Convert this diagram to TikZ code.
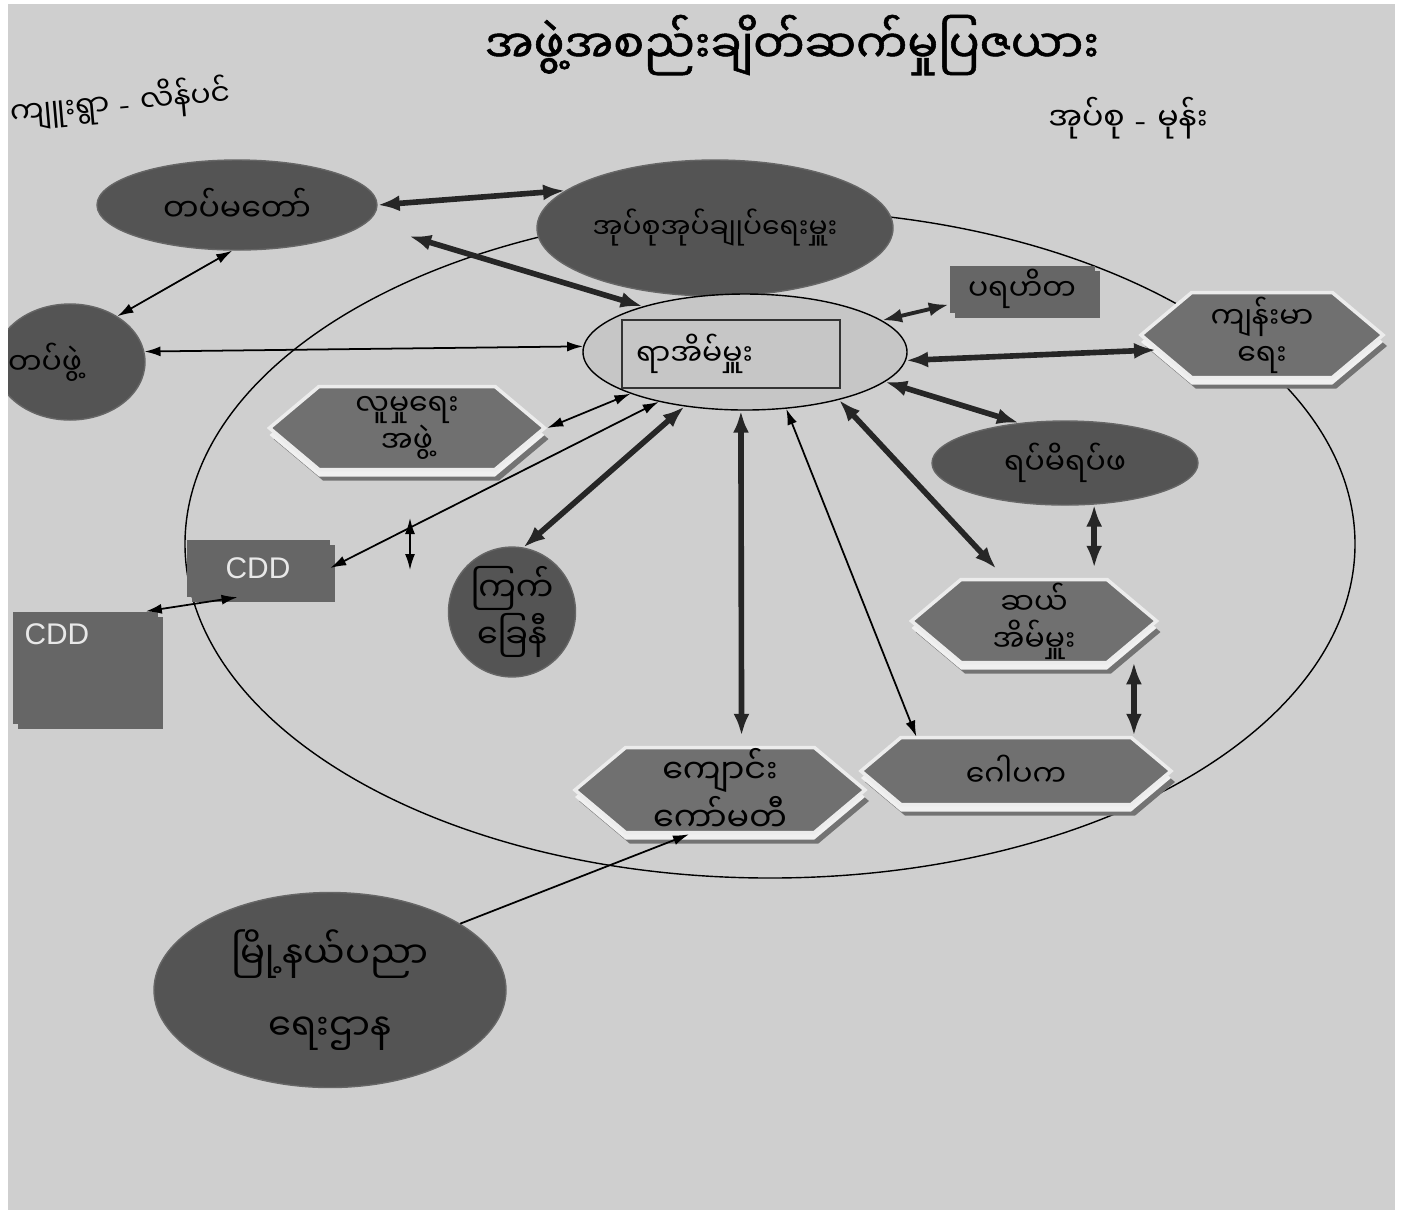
\documentclass[tikz,border=0pt]{standalone}
\usepackage{fontspec}
\newfontfamily\mmfont[Script=Myanmar]{Noto Sans Myanmar UI}
\newfontfamily\mmbold[Script=Myanmar, FakeBold=1.2]{Noto Sans Myanmar UI}
\setsansfont{Liberation Sans}
\usepackage{tikz}
\usetikzlibrary{arrows.meta}
\usetikzlibrary{shapes.geometric}
\usetikzlibrary{shapes.symbols}
\usetikzlibrary{shadows}
\pgfdeclarelayer{bg}
\pgfsetlayers{bg,main}
\definecolor{paper}{RGB}{207,207,207}
\definecolor{darkfill}{RGB}{84,84,84}
\definecolor{hexfill}{RGB}{112,112,112}
\definecolor{boxfill}{RGB}{102,102,102}
\definecolor{lightfill}{RGB}{198,198,198}
\newcommand{\dash}{\textrm{\ -\ }}

\begin{document}
\begin{tikzpicture}[
		mmtext/.style={font=\mmfont\fontsize{8.5}{10.5}\selectfont, align=center},
		blob/.style={ellipse, fill=darkfill, draw=black!60, inner sep=0pt, mmtext},
		hexa/.style={signal, signal to=east and west, signal pointer angle=80, fill=hexfill,
			draw=white!85!gray, line width=1pt, inner sep=0pt, mmtext,
			general shadow={fill=black!55, shadow xshift=0.4mm, shadow yshift=-1.1mm},
			general shadow={fill=white!88!gray, shadow yshift=-0.7mm}},
		greybox/.style={rectangle, fill=boxfill, inner sep=0pt,
			drop shadow={fill=black!60, shadow xshift=0.5mm, shadow yshift=-0.5mm, opacity=1}},
		cddtext/.style={font=\sffamily\fontsize{8.5}{10}\selectfont, text=white!82!gray},
		boldarr/.style={{Latex[length=2.2mm,width=1.6mm]}-{Latex[length=2.2mm,width=1.6mm]}, line width=1.6pt, black!85},
		medarr/.style={{Latex[length=2mm,width=1.4mm]}-{Latex[length=2mm,width=1.4mm]}, line width=1.1pt, black!85},
		thinarr/.style={{Latex[length=1.6mm,width=1mm]}-{Latex[length=1.6mm,width=1mm]}, line width=0.5pt},
		thinone/.style={-{Latex[length=1.6mm,width=1mm]}, line width=0.5pt}
	]
	\useasboundingbox (0,0) rectangle (14.03,-12.20);
	\begin{pgfonlayer}{bg}
		\fill[white] (0,0) rectangle (14.03,-12.20);
		\fill[paper] (0.08,-0.04) rectangle (13.95,-12.10);
		\draw[thin] (7.70,-5.44) ellipse (5.85 and 3.34);
	\end{pgfonlayer}

	% titles
	\node[font=\mmbold\fontsize{13}{16}\selectfont] (title) at (7.92,-0.45) {အဖွဲ့အစည်းချိတ်ဆက်မှုပြဇယား};
	\node[font=\mmfont\fontsize{8.5}{10.5}\selectfont, rotate=5] (vlabel) at (1.20,-1.03) {ကျူးရွာ\dash လိန်ပင်};
	\node[font=\mmfont\fontsize{9}{11}\selectfont] (tractlabel) at (11.28,-1.18) {အုပ်စု\dash မုန်း};

	% nodes
	\node[blob, minimum width=2.8cm, minimum height=0.9cm, font=\mmfont\fontsize{9}{11}\selectfont] (tatmadaw) at (2.37,-2.05) {တပ်မတော်};
	\node[blob, minimum width=3.56cm, minimum height=1.36cm, font=\mmfont\fontsize{8}{10}\selectfont] (ouk) at (7.15,-2.28) {အုပ်စုအုပ်ချုပ်ရေးမှူး};
	\node[ellipse, fill=lightfill, draw=black, thin, minimum width=3.24cm, minimum height=1.16cm] (village) at (7.45,-3.52) {};
	\node[draw=black!80, thin, fill=lightfill, minimum width=2.18cm, minimum height=0.68cm, text width=1.9cm, mmtext, align=left] (head) at (7.31,-3.54) {ရာအိမ်မှူး};
	\node[blob, minimum width=1.5cm, minimum height=1.16cm, label={[mmtext, xshift=-2.5mm]center:တပ်ဖွဲ့}] (troops) at (0.70,-3.62) {};
	\node[greybox, minimum width=1.45cm, minimum height=0.47cm, mmtext] (parahita) at (10.22,-2.89) {ပရဟိတ};
	\node[hexa, minimum width=2.42cm, minimum height=0.85cm] (health) at (12.62,-3.35) {ကျန်းမာ\\ရေး};
	\node[hexa, minimum width=2.75cm, minimum height=0.83cm] (social) at (4.07,-4.28) {လူမှုရေး\\အဖွဲ့};
	\node[blob, minimum width=2.66cm, minimum height=0.84cm] (rapmi) at (10.65,-4.63) {ရပ်မိရပ်ဖ};
	\node[hexa, minimum width=2.45cm, minimum height=0.83cm] (tenhouse) at (10.34,-6.21) {ဆယ်\\အိမ်မှူး};
	\node[blob, minimum width=1.27cm, minimum height=1.16cm, font=\mmfont\fontsize{9.5}{11.5}\selectfont] (redcross) at (5.12,-6.12) {ကြက်\\ခြေနီ};
	\node[greybox, minimum width=1.43cm, minimum height=0.57cm, cddtext] (cdd1) at (2.58,-5.68) {CDD};
	\node[greybox, minimum width=1.45cm, minimum height=1.12cm,
		label={[anchor=north west, inner sep=1.2mm, cddtext]north west:CDD}] (cdd2) at (0.85,-6.68) {};
	\node[hexa, minimum width=2.9cm, minimum height=0.85cm, font=\mmfont\fontsize{9.5}{11}\selectfont] (school) at (7.20,-7.90) {ကျောင်း\\ကော်မတီ};
	\node[hexa, minimum width=3.1cm, minimum height=0.67cm] (gopaka) at (10.16,-7.71) {ဂေါပက};
	\node[blob, minimum width=3.52cm, minimum height=1.95cm, font=\mmfont\fontsize{10.5}{12}\selectfont] (edu) at (3.30,-9.90) {မြို့နယ်ပညာ\\[3mm]ရေးဌာန};
	\coordinate (up) at (4.10,-5.18);
	\coordinate (down) at (4.10,-5.70);

	% links
	\draw[boldarr] (tatmadaw.east) -- (ouk.166);
	\draw[boldarr, shorten <=4.5mm] (tatmadaw.-8) -- (village.156);
	\draw[thinarr] (tatmadaw.-96) -- (troops.44);
	\draw[thinarr] (troops.8) -- (village.178);
	\draw[thinarr] (social.east) -- (village.200);
	\draw[thinarr] (cdd1.east) -- (village.210);
	\draw[thinarr] (up) -- (down);
	\draw[boldarr] (redcross.80) -- (village.222);
	\draw[boldarr, shorten >=1mm] (village.-94) -- (school.64);
	\draw[thinarr] (village.-54) -- (gopaka.161);
	\draw[boldarr, shorten >=1.3mm] (village.-27) -- (tenhouse.124);
	\draw[boldarr] (village.-12) -- (rapmi.139);
	\draw[boldarr] (village.-3) -- (health.188);
	\draw[medarr] (village.13) -- (parahita.192);
	\draw[boldarr, shorten >=1mm] (rapmi.-55) -- (rapmi.-55 |- tenhouse.north);
	\draw[boldarr, shorten <=2mm] (tenhouse.-12) -- (tenhouse.-12 |- gopaka.north);
	\draw[thinarr] (cdd2.43) -- (cdd1.235);
	\draw[thinone] (edu.27) -- (school.235);

	% page edge
	\fill[white] (0,0) rectangle (0.08,-12.20);
\end{tikzpicture}
\end{document}
